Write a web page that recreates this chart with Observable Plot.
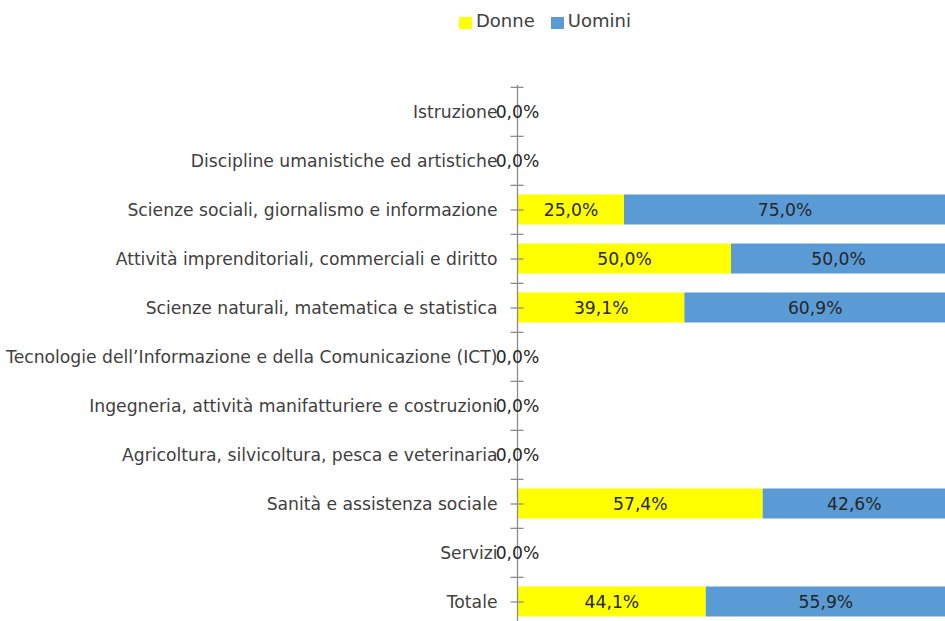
<!DOCTYPE html>
<html><head><meta charset="utf-8">
<script src="https://cdn.jsdelivr.net/npm/d3@7"></script>
<script src="https://cdn.jsdelivr.net/npm/@observablehq/plot@0.6"></script>
<style>
html,body{margin:0;padding:0;background:#fff;overflow:hidden;}
body{font-family:"DejaVu Sans",sans-serif;}
#legend{height:45px;display:flex;justify-content:flex-start;padding-left:452px;font-size:18px;color:#404040;}
#legend .item{display:flex;align-items:flex-start;padding-top:10px;box-sizing:border-box;margin:0 9px 0 7px;height:45px;}
#legend .sw{width:13px;height:12px;display:inline-block;margin-right:4px;margin-top:7px;}
</style></head>
<body>
<div id="legend"></div>
<div id="chart"></div>
<script>
const categories = [
  "Istruzione",
  "Discipline umanistiche ed artistiche",
  "Scienze sociali, giornalismo e informazione",
  "Attività imprenditoriali, commerciali e diritto",
  "Scienze naturali, matematica e statistica",
  "Tecnologie dell’Informazione e della Comunicazione (ICT)",
  "Ingegneria, attività manifatturiere e costruzioni",
  "Agricoltura, silvicoltura, pesca e veterinaria",
  "Sanità e assistenza sociale",
  "Servizi",
  "Totale"
];
const donne  = [0, 0, 25.0, 50.0, 39.1, 0, 0, 0, 57.4, 0, 44.1];
const uomini = [0, 0, 75.0, 50.0, 60.9, 0, 0, 0, 42.6, 0, 55.9];
const series = ["Donne", "Uomini"];
const colors = ["#FFFF00", "#5B9BD5"];

const rows = [];
categories.forEach((c, i) => {
  rows.push({cat: c, serie: "Donne", value: donne[i] / 100});
  rows.push({cat: c, serie: "Uomini", value: uomini[i] / 100});
});
const totals = categories.map((c, i) => ({cat: c, total: (donne[i] + uomini[i]) / 100}));
const fmt = v => (v * 100).toFixed(1).replace(".", ",") + "%";

// legend
const leg = document.getElementById("legend");
series.forEach((s, i) => {
  const it = document.createElement("div");
  it.className = "item";
  it.innerHTML = `<span class="sw" style="background:${colors[i]}"></span><span>${s}</span>`;
  leg.appendChild(it);
});

const W = 945, H = 576, mTop = 40;
const step = 49.3;
const axisColor = "#8c8c8c";
const FONT = "'DejaVu Sans', sans-serif";
const FS = 17.2;

const chart = Plot.plot({
  width: W,
  height: H,
  marginLeft: 517,
  marginRight: 0,
  marginTop: mTop,
  marginBottom: 0,
  style: {fontFamily: FONT, fontSize: FS + "px", color: "#404040", background: "#fff", overflow: "hidden"},
  x: {domain: [0, 1], axis: null},
  y: {domain: categories, range: [mTop, mTop + step * categories.length], padding: 0, axis: null},
  color: {domain: series, range: colors},
  marks: [
    Plot.barX(rows, Plot.stackX({y: "cat", x: "value", fill: "serie", order: series, insetTop: 9.5, insetBottom: 9.5})),
    Plot.ruleX([0], {stroke: axisColor, strokeWidth: 1.3}),
    Plot.ruleY(categories, {y: d => d, x1: 0, x2: 0, insetLeft: -6.5, insetRight: -6.5, dy: -step / 2, stroke: axisColor, strokeWidth: 1.3}),
    Plot.ruleY(totals.filter(d => d.total > 0), {y: "cat", x1: 0, x2: 0, insetLeft: -6.5, insetRight: -6.5, stroke: axisColor, strokeWidth: 1.3}),
    Plot.axisY({tickSize: 0, tickPadding: 20, fontSize: FS, fill: "#404040", label: null}),
    Plot.text(rows.filter(d => d.value > 0), Plot.stackX({y: "cat", x: "value", z: "serie", order: series, text: d => fmt(d.value), fill: "#262626", fontSize: FS})),
    Plot.text(totals.filter(d => d.total === 0), {y: "cat", x: d => d.total, text: d => fmt(d.total), fill: "#262626", fontSize: FS})
  ]
});
document.getElementById("chart").appendChild(chart);
</script>
</body></html>
